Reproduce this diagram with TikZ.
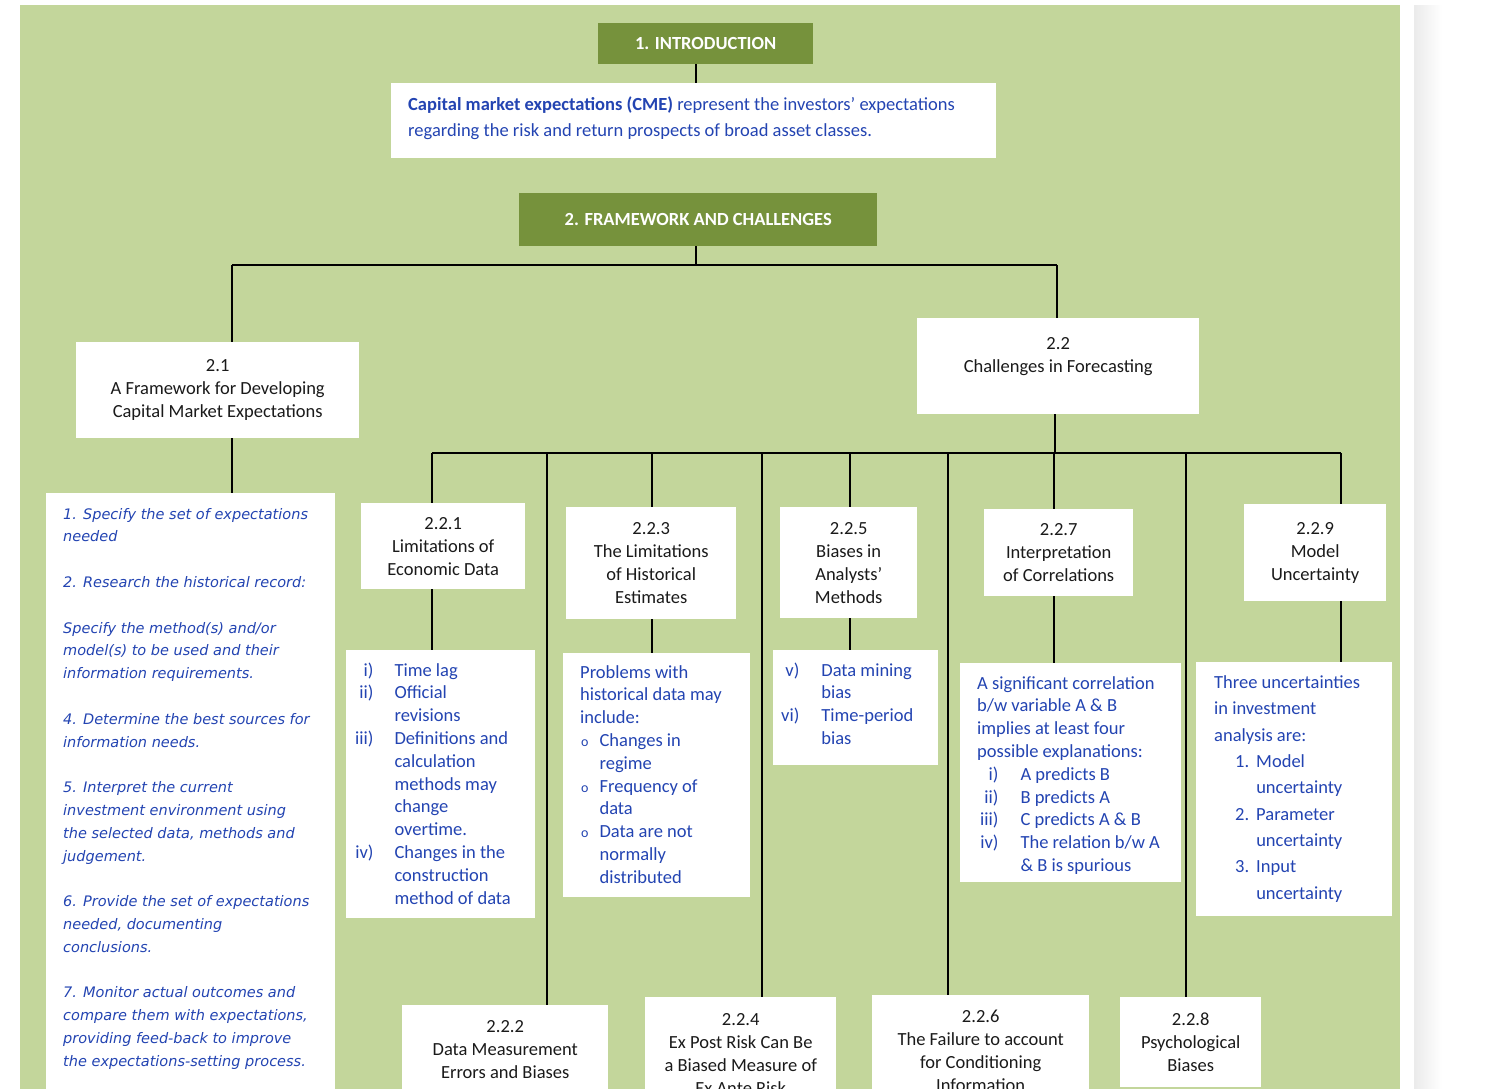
\documentclass[tikz,border=0pt]{standalone}
\usepackage{fontspec}
\setmainfont{Carlito}
\newfontfamily\stepfont{DejaVu Sans}[ItalicFont={DejaVu Sans Oblique}]
\usepackage{xcolor}
\usepackage{tikz}
\usetikzlibrary{positioning}

\definecolor{bgreen}{HTML}{C3D69B}
\definecolor{tgreen}{HTML}{76923C}
\definecolor{ublue}{HTML}{2344B2}
\definecolor{hblack}{HTML}{1A1A1A}

\tikzset{
  titlebox/.style={fill=tgreen, text=white, font=\fontsize{18.5}{23}\selectfont\bfseries, anchor=north west, inner sep=0pt},
  box/.style={fill=white, anchor=north west, inner sep=0pt},
  head/.style={box, align=center, text=hblack, font=\fontsize{18.5}{23}\selectfont},
  txt/.style={anchor=north west, inner sep=0pt, text=ublue, font=\fontsize{18.5}{22.8}\selectfont},
  link/.style={line width=1.6pt}
}

\begin{document}
\begin{tikzpicture}[x=1pt,y=-1pt]
\useasboundingbox (0,0) rectangle (1500,1088);
\clip (0,0) rectangle (1500,1088);
\fill[white] (0,0) rectangle (1500,1088);
\fill[bgreen] (20,5) rectangle (1400,1100);
\shade[left color=black!8, right color=white] (1414,5) rectangle (1442,1100);

% section 1
\node[titlebox, minimum width=215pt, minimum height=41pt] (intro) at (598,23) {1. INTRODUCTION};
\node[box, minimum width=605pt, minimum height=75pt] (cme) at (391,83) {};
\node[txt, font=\fontsize{18.5}{26}\selectfont] (cmet) at (391,92) {\begin{tabular}{@{\hspace{17pt}}l@{}}
\textbf{Capital market expectations (CME)} represent the investors’ expectations\\
regarding the risk and return prospects of broad asset classes.\end{tabular}};

% section 2
\node[titlebox, minimum width=358pt, minimum height=53pt] (fw) at (519,193) {2. FRAMEWORK AND CHALLENGES};
\node[head, minimum width=283pt, minimum height=96pt] (n21) at (76,342) {2.1\\A Framework for Developing\\Capital Market Expectations};
\node[head, minimum width=282pt, minimum height=96pt] (n22) at (917,318) {2.2\\Challenges in Forecasting\\\mbox{}};

% steps of the framework
\node[box, minimum width=289pt, minimum height=620pt] (steps) at (46,493) {};
\node[txt, font=\stepfont\itshape\fontsize{14.5}{22.8}\selectfont] (stepst) at (46,503) {\begin{tabular}{@{\hspace{17pt}}l@{}}
1. Specify the set of expectations\\
needed\\ \\
2. Research the historical record:\\ \\
Specify the method(s) and/or\\
model(s) to be used and their\\
information requirements.\\ \\
4. Determine the best sources for\\
information needs.\\ \\
5. Interpret the current\\
investment environment using\\
the selected data, methods and\\
judgement.\\ \\
6. Provide the set of expectations\\
needed, documenting\\
conclusions.\\ \\
7. Monitor actual outcomes and\\
compare them with expectations,\\
providing feed-back to improve\\
the expectations-setting process.\end{tabular}};

% challenges, upper row
\node[head, minimum width=164pt, minimum height=86pt] (n221) at (361,503) {2.2.1\\Limitations of\\Economic Data};
\node[head, minimum width=170pt, minimum height=112pt] (n223) at (566,507) {2.2.3\\The Limitations\\of Historical\\Estimates};
\node[head, minimum width=137pt, minimum height=111pt] (n225) at (780,507) {2.2.5\\Biases in\\Analysts’\\Methods};
\node[head, minimum width=149pt, minimum height=87pt] (n227) at (984,509) {2.2.7\\Interpretation\\of Correlations};
\node[head, minimum width=142pt, minimum height=97pt] (n229) at (1244,504) {2.2.9\\Model\\Uncertainty};

% challenges, lower row
\node[head, minimum width=206pt, minimum height=88pt] (n222) at (402,1005) {2.2.2\\Data Measurement\\Errors and Biases};
\node[head, minimum width=191pt, minimum height=113pt] (n224) at (645,997) {2.2.4\\Ex Post Risk Can Be\\a Biased Measure of\\Ex Ante Risk};
\node[head, minimum width=217pt, minimum height=111pt] (n226) at (872,995) {2.2.6\\The Failure to account\\for Conditioning\\Information};
\node[head, minimum width=141pt, minimum height=90pt] (n228) at (1120,997) {2.2.8\\Psychological\\Biases};

% detail boxes
\node[box, minimum width=189pt, minimum height=268pt] (l221) at (346,650) {};
\node[txt] (l221t) at (346,660) {\begin{tabular}{@{\hspace{9pt}}r@{\hspace{21pt}}l@{}}
i) & Time lag\\
ii) & Official\\
 & revisions\\
iii) & Definitions and\\
 & calculation\\
 & methods may\\
 & change\\
 & overtime.\\
iv) & Changes in the\\
 & construction\\
 & method of data\end{tabular}};

\node[box, minimum width=187pt, minimum height=244pt] (l223) at (563,653) {};
\node[txt] (l223t) at (563,662) {\begin{tabular}{@{\hspace{18pt}}l@{\hspace{11pt}}l@{}}
\multicolumn{2}{@{\hspace{17pt}}l@{}}{Problems with}\\
\multicolumn{2}{@{\hspace{17pt}}l@{}}{historical data may}\\
\multicolumn{2}{@{\hspace{17pt}}l@{}}{include:}\\
{\fontsize{14}{22.8}\selectfont o} & Changes in\\
 & regime\\
{\fontsize{14}{22.8}\selectfont o} & Frequency of\\
 & data\\
{\fontsize{14}{22.8}\selectfont o} & Data are not\\
 & normally\\
 & distributed\end{tabular}};

\node[box, minimum width=165pt, minimum height=115pt] (l225) at (773,650) {};
\node[txt] (l225t) at (773,660) {\begin{tabular}{@{\hspace{8pt}}r@{\hspace{22pt}}l@{}}
v) & Data mining\\
 & bias\\
vi) & Time-period\\
 & bias\end{tabular}};

\node[box, minimum width=221pt, minimum height=219pt] (l227) at (960,663) {};
\node[txt] (l227t) at (960,673) {\begin{tabular}{@{\hspace{20pt}}r@{\hspace{22pt}}l@{}}
\multicolumn{2}{@{\hspace{17pt}}l@{}}{A significant correlation}\\
\multicolumn{2}{@{\hspace{17pt}}l@{}}{b/w variable A \& B}\\
\multicolumn{2}{@{\hspace{17pt}}l@{}}{implies at least four}\\
\multicolumn{2}{@{\hspace{17pt}}l@{}}{possible explanations:}\\
i) & A predicts B\\
ii) & B predicts A\\
iii) & C predicts A \& B\\
iv) & The relation b/w A\\
 & \& B is spurious\end{tabular}};

\node[box, minimum width=196pt, minimum height=254pt] (l229) at (1196,662) {};
\node[txt, font=\fontsize{18.5}{26.3}\selectfont] (l229t) at (1196,670) {\begin{tabular}{@{\hspace{39pt}}r@{\hspace{7pt}}l@{}}
\multicolumn{2}{@{\hspace{18pt}}l@{}}{Three uncertainties}\\
\multicolumn{2}{@{\hspace{18pt}}l@{}}{in investment}\\
\multicolumn{2}{@{\hspace{18pt}}l@{}}{analysis are:}\\
1. & Model\\
 & uncertainty\\
2. & Parameter\\
 & uncertainty\\
3. & Input\\
 & uncertainty\end{tabular}};

% connectors
\coordinate (top) at (696,265);
\coordinate (busL) at (232,265);
\coordinate (busR) at (1057,265);
\coordinate (sub) at (1055,453);
\coordinate (b1) at (432,453);
\coordinate (b2) at (547,453);
\coordinate (b3) at (652,453);
\coordinate (b4) at (762,453);
\coordinate (b5) at (850,453);
\coordinate (b6) at (948,453);
\coordinate (b7) at (1054,453);
\coordinate (b8) at (1186,453);
\coordinate (b9) at (1341,453);

\draw[link] (intro.south -| top) -- (cme.north -| top);
\draw[link] (fw.south -| top) -- (top);
\draw[link] (busL) -- (busR);
\draw[link] (busL) -- (busL |- n21.north);
\draw[link] (busR) -- (busR |- n22.north);
\draw[link] (busL |- n21.south) -- (busL |- steps.north);
\draw[link] (n22.south -| sub) -- (sub);
\draw[link] (b1) -- (b9);
\foreach \b/\n in {b1/n221,b2/n222,b3/n223,b4/n224,b5/n225,b6/n226,b7/n227,b8/n228,b9/n229}
  \draw[link] (\b) -- (\b |- \n.north);
\foreach \b/\n/\l in {b1/n221/l221,b3/n223/l223,b5/n225/l225,b7/n227/l227,b9/n229/l229}
  \draw[link] (\b |- \n.south) -- (\b |- \l.north);
\end{tikzpicture}
\end{document}
